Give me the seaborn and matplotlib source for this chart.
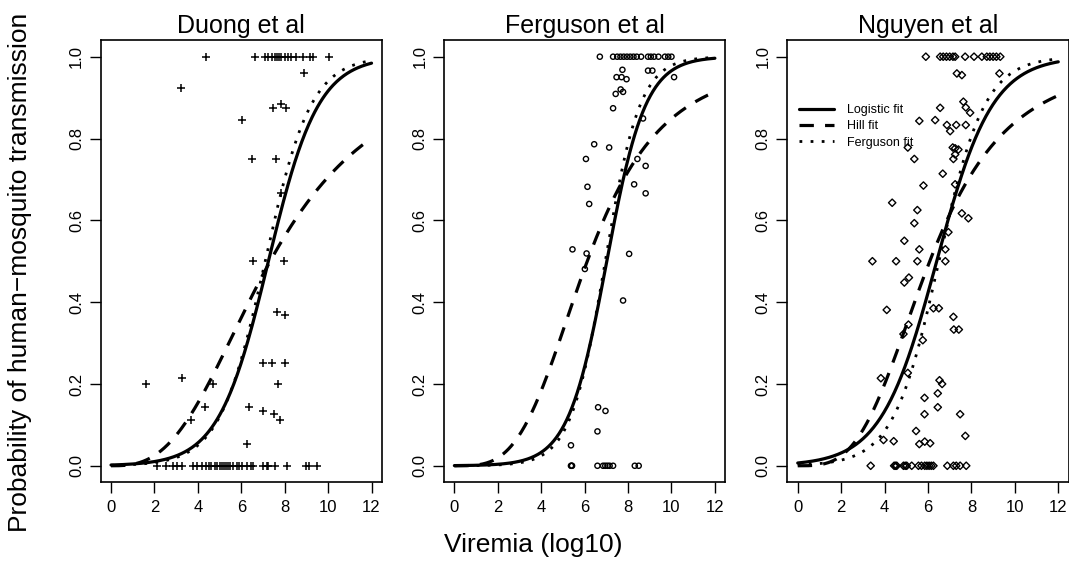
import numpy as np
import pandas as pd
import seaborn as sns
import matplotlib.pyplot as plt
from matplotlib.lines import Line2D

duong_x = [4.38, 6.64, 7.1, 7.25, 7.4, 7.55, 7.65, 7.75, 7.85, 8.0, 8.15, 8.3, 8.5, 8.85, 9.17, 9.3, 10.05,
           3.21, 8.89, 7.45, 7.82, 8.06, 6.05, 6.48, 7.6, 7.83, 6.56, 7.99, 7.66, 8.02, 6.99, 7.43, 8.0,
           1.61, 3.26, 4.69, 7.68, 4.35, 6.36, 6.99, 7.51, 7.79, 3.67, 6.25,
           2.13, 2.53, 2.87, 3.06, 3.27, 3.79, 3.95, 4.18, 4.38, 4.5, 4.59, 4.79, 4.9, 5.02, 5.1, 5.21,
           5.3, 5.41, 5.5, 5.61, 5.79, 5.9, 6.02, 6.25, 6.44, 6.56, 6.99, 7.17, 7.25, 7.56, 8.1, 8.99, 9.14, 9.48]
duong_y = [1.0] * 17 + [
           0.923, 0.959, 0.874, 0.884, 0.874, 0.845, 0.75, 0.75, 0.666, 0.5, 0.5, 0.375, 0.368, 0.25, 0.25, 0.25,
           0.2, 0.214, 0.2, 0.2, 0.143, 0.143, 0.134, 0.126, 0.112, 0.112, 0.053] + [0.0] * 34

ferg_x = [6.7, 7.31, 7.5, 7.65, 7.8, 7.95, 8.1, 8.25, 8.4, 8.6, 8.92, 9.05, 9.2, 9.4, 9.7, 9.85, 10.0,
          7.74, 8.92, 9.12, 7.47, 7.7, 7.93, 10.12, 7.66, 7.43, 7.77, 7.31, 8.69, 6.44, 7.13, 6.06, 8.43,
          8.81, 6.13, 8.28, 8.81, 6.21, 5.44, 6.09, 8.05, 6.01, 7.77, 6.62, 6.96, 6.59, 5.37,
          5.37, 5.40, 5.42, 6.59, 6.85, 6.95, 7.05, 7.15, 7.31, 8.31, 8.49]
ferg_y = [1.0] * 17 + [
          0.968, 0.966, 0.966, 0.95, 0.95, 0.945, 0.95, 0.92, 0.909, 0.914, 0.874, 0.849, 0.786, 0.778, 0.75, 0.75,
          0.733, 0.682, 0.688, 0.666, 0.64, 0.529, 0.519, 0.518, 0.481, 0.404, 0.143, 0.134, 0.084, 0.05] + [0.0] * 11

nguyen_x = [5.9, 6.56, 6.7, 6.85, 7.0, 7.15, 7.25, 7.71, 8.12, 8.48, 8.71, 8.85, 9.0, 9.15, 9.33,
            7.33, 7.56, 9.29, 7.63, 7.74, 7.94, 6.56, 5.6, 6.33, 6.87, 7.02, 7.3, 7.74, 5.07, 7.14, 7.25,
            7.4, 7.25, 7.17, 5.37, 6.68, 5.79, 7.25, 4.35, 5.51, 7.56, 7.86, 5.37, 6.94, 4.91, 5.6, 6.8,
            3.44, 4.53, 5.51, 6.8, 4.91, 5.12, 4.1, 6.25, 6.5, 7.17, 7.19, 7.42, 5.1, 4.87, 5.76, 5.07,
            3.83, 6.53, 6.65, 6.45, 5.84, 6.45, 5.84, 7.48, 5.45, 7.72, 3.95, 4.42, 5.6, 5.85, 6.1,
            3.36, 4.44, 4.5, 4.56, 4.87, 4.95, 5.02, 5.25, 5.56, 5.7, 5.85, 5.95, 6.05, 6.15, 6.25,
            6.89, 7.17, 7.3, 7.48, 7.76]
nguyen_y = [1.0] * 15 + [
            0.959, 0.955, 0.959, 0.89, 0.876, 0.863, 0.875, 0.843, 0.845, 0.833, 0.818, 0.833, 0.833, 0.778,
            0.778, 0.776, 0.773, 0.761, 0.75, 0.75, 0.714, 0.685, 0.688, 0.643, 0.625, 0.617, 0.605, 0.593,
            0.571, 0.55, 0.529, 0.529, 0.5, 0.5, 0.5, 0.5, 0.448, 0.46, 0.381, 0.385, 0.385, 0.364, 0.333,
            0.333, 0.345, 0.322, 0.307, 0.227, 0.214, 0.209, 0.2, 0.177, 0.166, 0.143, 0.126, 0.126, 0.085,
            0.073, 0.063, 0.06, 0.053, 0.059, 0.055] + [0.0] * 20

titles = ["Duong et al", "Ferguson et al", "Nguyen et al"]
# fitted curve parameters
logistic_mid = [7.25, 7.02, 6.4]
logistic_slope = [0.87, 1.12, 0.78]
hill_k = [7.33, 6.12, 6.08]
hill_n = [2.82, 3.51, 3.32]
ferg_mid = [7.1, 6.95, 6.5]
ferg_slope = [0.95, 1.25, 0.95]

xs = [duong_x, ferg_x, nguyen_x]
ys = [duong_y, ferg_y, nguyen_y]
markers = ["+", "o", "D"]
sizes = [34, 14, 14]

sns.set_style("ticks")
plt.rcParams["font.family"] = ["Liberation Sans", "DejaVu Sans"]
for key in ["text.color", "axes.labelcolor", "xtick.color", "ytick.color", "axes.edgecolor"]:
    plt.rcParams[key] = "black"

fig = plt.figure(figsize=(10.69, 5.73), dpi=100)
lefts = [0.0941, 0.4153, 0.7365]
grid = np.linspace(0, 12, 300)

for i in range(3):
    ax = fig.add_axes([lefts[i], 0.1586, 0.2632, 0.771])
    pts = pd.DataFrame({"vir": xs[i], "p": ys[i]})
    if markers[i] == "+":
        sns.scatterplot(data=pts, x="vir", y="p", marker="+", color="black", s=sizes[i],
                        linewidth=1.1, ax=ax, zorder=3)
    else:
        sns.scatterplot(data=pts, x="vir", y="p", marker=markers[i], facecolor="none",
                        edgecolor="black", s=sizes[i], linewidth=1.0, ax=ax, zorder=3)

    curves = pd.DataFrame({
        "vir": grid,
        "logistic": 1 / (1 + np.exp(-logistic_slope[i] * (grid - logistic_mid[i]))),
        "hill": grid ** hill_n[i] / (grid ** hill_n[i] + hill_k[i] ** hill_n[i]),
        "ferguson": 1 / (1 + np.exp(-ferg_slope[i] * (grid - ferg_mid[i]))),
    })
    sns.lineplot(data=curves, x="vir", y="logistic", color="black", linewidth=2.3, ax=ax)
    sns.lineplot(data=curves, x="vir", y="hill", color="black", linewidth=2.3, ax=ax,
                 linestyle=(0, (4.5, 3.5)))
    sns.lineplot(data=curves, x="vir", y="ferguson", color="black", linewidth=2.0, ax=ax,
                 linestyle=(0, (1, 3)))

    ax.set_xlim(-0.48, 12.48)
    ax.set_ylim(-0.04, 1.04)
    ax.set_xticks(range(0, 13, 2))
    ax.set_yticks([0, 0.2, 0.4, 0.6, 0.8, 1.0])
    ax.set_yticklabels(["0.0", "0.2", "0.4", "0.6", "0.8", "1.0"], rotation=90, va="center")
    ax.tick_params(axis="both", length=8, width=1, labelsize=12, color="black", labelcolor="black")
    ax.tick_params(axis="x", pad=5)
    ax.tick_params(axis="y", pad=4)
    for sp in ax.spines.values():
        sp.set_visible(True)
        sp.set_linewidth(1.2)
        sp.set_color("black")
    ax.set_xlabel("")
    ax.set_ylabel("")
    ax.set_title(titles[i], fontsize=18, pad=5)

    if i == 2:
        handles = [Line2D([], [], color="black", linewidth=2.3),
                   Line2D([], [], color="black", linewidth=2.3, linestyle=(0, (4.5, 3.5))),
                   Line2D([], [], color="black", linewidth=2.0, linestyle=(0, (1, 3)))]
        ax.legend(handles, ["Logistic fit", "Hill fit", "Ferguson fit"], loc="upper left",
                  bbox_to_anchor=(0.02, 0.87), frameon=False, fontsize=9, handlelength=2.8,
                  handletextpad=1.0, labelspacing=0.35, borderpad=0)

fig.text(0.4985, 0.048, "Viremia (log10)", ha="center", va="center", fontsize=19)
fig.text(0.019, 0.525, "Probability of human\u2212mosquito transmission", ha="center", va="center",
         rotation=90, fontsize=19)

fig.savefig("out.png", dpi=100)
